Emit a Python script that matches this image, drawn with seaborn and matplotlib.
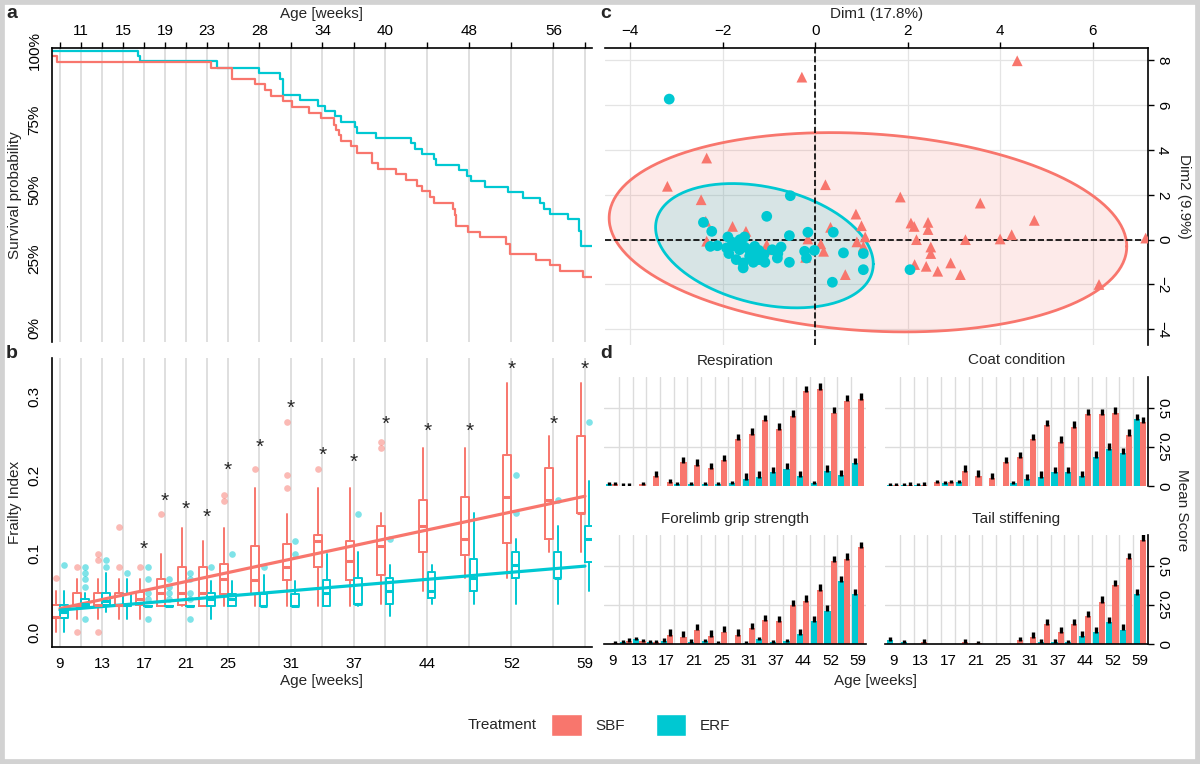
import numpy as np
import pandas as pd
import seaborn as sns
import matplotlib.pyplot as plt
from matplotlib.patches import Patch, Rectangle

# ---------------- data ----------------
ages = [9, 11, 13, 15, 17, 19, 21, 23, 25, 28, 31, 34, 37, 40, 44, 48, 52, 56, 59]
top_tick_ages = [11, 15, 19, 23, 28, 34, 40, 48, 56]
bottom_tick_ages = [9, 13, 17, 21, 25, 31, 37, 44, 52, 59]

# a) survival (Kaplan-Meier steps, %)
km_erf_t = [8.3, 16.4, 16.6, 24.0, 28.0, 30.0, 30.2, 31.9, 33.6, 34.2, 35.2, 35.8, 37.1, 37.3,
            39.1, 42.4, 42.8, 43.5, 44.6, 44.8, 47.0, 47.8, 48.1, 49.5, 51.7, 53.1, 54.7,
            55.1, 55.7, 57.4, 58.4, 58.6, 59.67]
km_erf_s = [100, 98.2, 96.4, 93.9, 92.1, 90.0, 84.2, 82.4, 80.2, 78.4, 76.4, 74.5, 72.5, 70.5,
            68.7, 66.7, 64.6, 62.8, 60.8, 58.8, 57.0, 54.9, 53.0, 50.9, 49.1, 47.0, 45.1,
            43.0, 41.2, 39.2, 35.2, 29.5, 29.5]
km_sbf_t = [8.3, 8.7, 23.4, 25.4, 27.6, 28.5, 29.1, 30.2, 31.1, 32.7, 33.9, 35.1, 35.3, 35.6,
            35.8, 36.7, 37.3, 38.7, 39.3, 41.0, 42.0, 43.0, 43.5, 44.2, 44.6, 46.4, 46.6,
            46.7, 47.9, 49.0, 51.5, 51.9, 54.3, 55.7, 56.6, 58.8, 59.67]
km_sbf_s = [98.0, 96.0, 93.7, 89.7, 87.9, 85.8, 83.6, 81.8, 79.8, 77.6, 75.8, 73.3, 71.5, 69.5,
            67.5, 65.5, 63.3, 59.4, 57.2, 55.5, 53.3, 51.3, 49.3, 47.3, 45.2, 43.0, 40.8,
            36.7, 34.8, 32.7, 30.5, 26.7, 24.6, 22.7, 20.6, 18.5, 18.5]

# b) frailty index box statistics per age
sbf_lo = [0.0, 0.017, 0.017, 0.017, 0.017, 0.033, 0.033, 0.033, 0.033, 0.033, 0.033, 0.033,
          0.033, 0.036, 0.052, 0.069, 0.069, 0.102, 0.102]
sbf_q1 = [0.018, 0.033, 0.033, 0.033, 0.034, 0.033, 0.034, 0.033, 0.049, 0.049, 0.066, 0.083,
          0.066, 0.073, 0.102, 0.098, 0.114, 0.118, 0.151]
sbf_med = [0.019, 0.034, 0.034, 0.034, 0.042, 0.05, 0.05, 0.05, 0.067, 0.066, 0.083, 0.116,
           0.091, 0.11, 0.135, 0.118, 0.172, 0.168, 0.151]
sbf_q3 = [0.034, 0.05, 0.05, 0.05, 0.051, 0.067, 0.083, 0.083, 0.087, 0.109, 0.112, 0.124,
          0.116, 0.135, 0.168, 0.172, 0.226, 0.209, 0.25]
sbf_hi = [0.052, 0.067, 0.067, 0.067, 0.067, 0.1, 0.133, 0.116, 0.133, 0.183, 0.15, 0.183,
          0.183, 0.151, 0.234, 0.234, 0.317, 0.25, 0.317]
sbf_out = [[0.069], [0.083, 0.0], [0.1, 0.092, 0.0], [0.134, 0.083], [0.083], [0.15], [], [],
           [0.175, 0.167], [0.208], [0.267, 0.2, 0.183], [0.208], [], [0.242, 0.234],
           [], [], [], [], []]

erf_lo = [0.0, 0.033, 0.025, 0.017, 0.033, 0.033, 0.033, 0.017, 0.033, 0.033, 0.033, 0.033,
          0.033, 0.02, 0.036, 0.036, 0.036, 0.036, 0.052]
erf_q1 = [0.018, 0.033, 0.034, 0.033, 0.033, 0.033, 0.033, 0.033, 0.033, 0.033, 0.033, 0.033,
          0.036, 0.036, 0.044, 0.052, 0.069, 0.069, 0.089]
erf_med = [0.026, 0.036, 0.039, 0.035, 0.033, 0.033, 0.033, 0.042, 0.042, 0.033, 0.033, 0.05,
           0.036, 0.052, 0.052, 0.069, 0.085, 0.069, 0.118]
erf_q3 = [0.034, 0.042, 0.05, 0.048, 0.033, 0.033, 0.033, 0.05, 0.049, 0.049, 0.049, 0.066,
          0.069, 0.069, 0.077, 0.093, 0.102, 0.102, 0.135]
erf_hi = [0.052, 0.05, 0.075, 0.067, 0.033, 0.033, 0.033, 0.065, 0.065, 0.073, 0.065, 0.1,
          0.102, 0.085, 0.085, 0.151, 0.118, 0.135, 0.193]
erf_out = [[0.086], [0.083, 0.075, 0.067, 0.058, 0.017], [0.092, 0.083], [0.075],
           [0.083, 0.067, 0.05, 0.042, 0.017], [0.067, 0.058, 0.05, 0.042],
           [0.075, 0.067, 0.05, 0.042, 0.017], [0.083], [0.1], [0.083], [0.116, 0.1], [],
           [0.15], [0.118], [], [], [0.2, 0.151], [0.168], [0.267]]

fit_ages = [9, 59]
fit_sbf = [0.030, 0.173]
fit_erf = [0.028, 0.084]

star_ages = [17, 19, 21, 23, 25, 28, 31, 34, 37, 40, 44, 48, 52, 56, 59]
star_y = [0.105, 0.166, 0.156, 0.146, 0.206, 0.235, 0.285, 0.225, 0.216, 0.265, 0.256,
          0.256, 0.335, 0.265, 0.335]

# c) PCA individuals
pc_sbf_x = [4.37, -0.29, -2.35, -3.2, 0.22, -2.47, 1.84, 3.57, 0.88, 4.74, 1.0, 2.07, 2.14,
            2.44, 2.44, 0.33, 1.08, 4.25, 4.0, 3.25, 2.19, 7.15, 0.9, 2.5, 2.5, 2.93, 2.4,
            2.65, 3.14, 2.15, 0.65, 6.14, -2.37, -1.79, -1.5, -2.35, -1.05, -1.05, -0.16,
            0.12, 0.18, -0.21, 1.04]
pc_sbf_y = [7.98, 7.25, 3.64, 2.38, 2.45, 1.78, 1.9, 1.63, 1.14, 0.86, 0.62, 0.74, 0.59,
            0.77, 0.45, 0.55, 0.12, 0.22, 0.03, 0.0, 0.0, 0.07, -0.1, -0.33, -0.62, -1.04,
            -1.19, -1.41, -1.56, -1.11, -1.56, -2.0, 0.82, 0.59, 0.37, -0.07, -0.22, -0.45,
            0.03, -0.19, -0.52, -0.79, -0.3]
pc_erf_x = [-3.16, -0.54, -1.05, -2.42, -2.24, -1.89, -1.53, -0.56, -0.16, 0.39, -2.27, -2.12,
            -1.92, -1.75, -1.64, -1.53, -1.42, -1.31, -1.22, -1.11, -1.87, -1.71, -1.56, -1.56,
            -1.34, -1.09, -0.82, -0.74, -0.56, -0.23, -0.02, -0.19, 0.61, 1.04, 1.04, 0.37,
            2.05, -1.63, -1.79, -1.31, -0.93, -0.81, -1.42, -1.22]
pc_erf_y = [6.27, 1.96, 1.04, 0.77, 0.37, 0.12, 0.12, 0.18, 0.33, 0.33, -0.3, -0.27, -0.37,
            -0.27, -0.45, -0.33, -0.45, -0.56, -0.48, -0.67, -0.62, -0.89, -1.04, -1.26,
            -1.01, -1.01, -0.82, -0.33, -1.01, -0.52, -0.48, -0.82, -0.59, -0.62, -1.34,
            -1.9, -1.34, 0.0, -0.12, -0.3, -0.45, -0.62, -0.74, -0.89]
# confidence ellipses: centre x, centre y, x radius, y radius, tilt (dy per dx)
ell_sbf = [1.14, 0.33, 5.6, 4.40, -0.113]
ell_erf = [-1.1, -0.27, 2.355, 2.65, -0.346]

# d) mean item scores
resp_erf = [0.01, 0.003, 0.002, 0.002, 0.002, 0.013, 0.013, 0.013, 0.011, 0.02, 0.047, 0.06,
            0.09, 0.112, 0.062, 0.02, 0.097, 0.07, 0.145]
resp_sbf = [0.01, 0.003, 0.01, 0.062, 0.028, 0.153, 0.136, 0.113, 0.166, 0.299, 0.335, 0.424,
            0.367, 0.451, 0.61, 0.625, 0.472, 0.549, 0.56]
coat_erf = [0.004, 0.004, 0.004, 0.002, 0.02, 0.026, 0.002, 0.002, 0.002, 0.017, 0.043, 0.059,
            0.087, 0.087, 0.062, 0.187, 0.238, 0.209, 0.428]
coat_sbf = [0.004, 0.009, 0.008, 0.026, 0.026, 0.098, 0.065, 0.05, 0.153, 0.185, 0.3, 0.39,
            0.285, 0.38, 0.46, 0.46, 0.47, 0.33, 0.41]
grip_erf = [0.002, 0.011, 0.033, 0.011, 0.022, 0.002, 0.015, 0.017, 0.007, 0.002, 0.007, 0.033,
            0.011, 0.017, 0.063, 0.145, 0.215, 0.402, 0.32]
grip_sbf = [0.007, 0.022, 0.017, 0.011, 0.059, 0.048, 0.093, 0.054, 0.08, 0.059, 0.102, 0.152,
            0.146, 0.25, 0.278, 0.348, 0.533, 0.548, 0.62]
tail_erf = [0.028, 0.011, 0.0, 0.0, 0.0, 0.0, 0.0, 0.0, 0.0, 0.0, 0.0, 0.015, 0.015, 0.011,
            0.05, 0.075, 0.14, 0.093, 0.32]
tail_sbf = [0.0, 0.0, 0.015, 0.0, 0.0, 0.015, 0.007, 0.0, 0.0, 0.028, 0.045, 0.128, 0.076,
            0.128, 0.18, 0.272, 0.378, 0.55, 0.67]

# ---------------- style ----------------
sbf_col = "#F8766D"
erf_col = "#00C8D2"
grid_col = "#dcdcdc"
pal = {"SBF": sbf_col, "ERF": erf_col}

sns.set_style("white")
plt.rcParams["font.family"] = ["Liberation Sans", "DejaVu Sans"]
plt.rcParams["font.size"] = 11
plt.rcParams["xtick.color"] = "black"
plt.rcParams["ytick.color"] = "black"

W, H = 1200, 764
fig = plt.figure(figsize=(W / 100, H / 100), dpi=100)


def px_axes(l, t, r, b):
    return fig.add_axes([l / W, 1 - b / H, (r - l) / W, (b - t) / H])


def age_ticks(ax, labelled):
    ax.set_xticks(ages)
    ax.set_xticklabels([str(a) if a in labelled else "" for a in ages])
    for a in ages:
        ax.axvline(a, color=grid_col, lw=1.3, zorder=0)


# ---------------- a: survival ----------------
ax_a = px_axes(52, 48, 592, 342)
age_ticks(ax_a, top_tick_ages)
sns.lineplot(x=km_erf_t, y=km_erf_s, drawstyle="steps-post", color=erf_col, lw=1.6,
             estimator=None, sort=False, ax=ax_a)
sns.lineplot(x=km_sbf_t, y=km_sbf_s, drawstyle="steps-post", color=sbf_col, lw=1.6,
             estimator=None, sort=False, ax=ax_a)
ax_a.set_xlim(8.24, 59.67)
ax_a.set_ylim(-5, 101)
ax_a.xaxis.tick_top()
ax_a.xaxis.set_label_position("top")
ax_a.set_xlabel("Age [weeks]", labelpad=4)
ax_a.set_yticks([0, 25, 50, 75, 100])
ax_a.set_yticklabels(["0%", "25%", "50%", "75%", "100%"], rotation=90, va="center")
ax_a.set_ylabel("Survival probability")
for s in ["right", "bottom"]:
    ax_a.spines[s].set_visible(False)
for s in ["top", "left"]:
    ax_a.spines[s].set_color("black")
    ax_a.spines[s].set_linewidth(1.2)
ax_a.tick_params(direction="out", length=4, width=1)

# ---------------- b: frailty index ----------------
ax_b = px_axes(52, 358, 592, 647)
age_ticks(ax_b, bottom_tick_ages)


def make_stats(lo, q1, med, q3, hi, out):
    return [dict(whislo=a, q1=b, med=c, q3=d, whishi=e, fliers=f)
            for a, b, c, d, e, f in zip(lo, q1, med, q3, hi, out)]


for stats, col, shift in [(make_stats(sbf_lo, sbf_q1, sbf_med, sbf_q3, sbf_hi, sbf_out), sbf_col, -0.4),
                          (make_stats(erf_lo, erf_q1, erf_med, erf_q3, erf_hi, erf_out), erf_col, 0.4)]:
    ax_b.bxp(stats, positions=[a + shift for a in ages], widths=0.72, showcaps=False,
             patch_artist=False, manage_ticks=False,
             boxprops=dict(color=col, lw=1.4), medianprops=dict(color=col, lw=2.2),
             whiskerprops=dict(color=col, lw=1.4),
             flierprops=dict(marker="o", markerfacecolor=col, markeredgecolor="none",
                             alpha=0.5, markersize=4.8))

sns.lineplot(x=fit_ages, y=fit_sbf, color=sbf_col, lw=2.3, ax=ax_b)
sns.lineplot(x=fit_ages, y=fit_erf, color=erf_col, lw=2.3, ax=ax_b)
for a, v in zip(star_ages, star_y):
    ax_b.text(a, v, "*", ha="center", va="center", fontsize=15)

ax_b.set_xlim(8.24, 59.67)
ax_b.set_ylim(-0.019, 0.349)
ax_b.set_yticks([0, 0.1, 0.2, 0.3])
ax_b.set_yticklabels(["0.0", "0.1", "0.2", "0.3"], rotation=90, va="center")
ax_b.set_xlabel("Age [weeks]", labelpad=2)
ax_b.set_ylabel("Frailty Index")
for s in ["right", "top"]:
    ax_b.spines[s].set_visible(False)
for s in ["bottom", "left"]:
    ax_b.spines[s].set_color("black")
    ax_b.spines[s].set_linewidth(1.2)
ax_b.tick_params(direction="out", length=4, width=1)

# ---------------- c: PCA ----------------
ax_c = px_axes(605, 48, 1148, 345)
for sh_params, col in [(ell_sbf, sbf_col), (ell_erf, erf_col)]:
    cx, cy, rx, ry, tilt = sh_params
    t = np.linspace(0, 2 * np.pi, 300)
    ex = cx + rx * np.cos(t)
    ey = cy + ry * np.sin(t) + tilt * rx * np.cos(t)
    ax_c.fill(ex, ey, color=col, alpha=0.15, lw=0, zorder=1)
    ax_c.plot(ex, ey, color=col, lw=2, zorder=2)

pca = pd.DataFrame({
    "Dim1": pc_sbf_x + pc_erf_x,
    "Dim2": pc_sbf_y + pc_erf_y,
    "Treatment": ["SBF"] * len(pc_sbf_x) + ["ERF"] * len(pc_erf_x),
})
sns.scatterplot(data=pca, x="Dim1", y="Dim2", hue="Treatment", style="Treatment",
                markers={"SBF": "^", "ERF": "o"}, palette=pal, s=60, edgecolor="none",
                legend=False, ax=ax_c, zorder=3)
ax_c.axvline(0, color="black", ls="--", lw=1.2, zorder=2.5)
ax_c.axhline(0, color="black", ls="--", lw=1.2, zorder=2.5)
ax_c.set_xlim(-4.55, 7.2)
ax_c.set_ylim(-4.7, 8.55)
ax_c.set_xticks([-4, -2, 0, 2, 4, 6])
ax_c.set_xticklabels(["\u22124", "\u22122", "0", "2", "4", "6"])
ax_c.set_yticks([-4, -2, 0, 2, 4, 6, 8])
ax_c.set_yticklabels(["\u22124", "\u22122", "0", "2", "4", "6", "8"], rotation=-90, va="center")
ax_c.grid(True, color="#e4e4e4", lw=0.9)
ax_c.set_axisbelow(True)
ax_c.xaxis.tick_top()
ax_c.xaxis.set_label_position("top")
ax_c.yaxis.tick_right()
ax_c.set_xlabel("Dim1 (17.8%)", labelpad=4)
ax_c.set_ylabel("")
for s in ["left", "bottom"]:
    ax_c.spines[s].set_visible(False)
for s in ["top", "right"]:
    ax_c.spines[s].set_color("black")
    ax_c.spines[s].set_linewidth(1.2)
ax_c.tick_params(direction="out", length=4, width=1)
ax_c.tick_params(axis="y", pad=1)
fig.text(1184 / W, 1 - 196 / H, "Dim2 (9.9%)", ha="center", va="center", rotation=-90, fontsize=11)

# ---------------- d: item scores ----------------
panels_d = [("Respiration", resp_erf, resp_sbf), ("Coat condition", coat_erf, coat_sbf),
            ("Forelimb grip strength", grip_erf, grip_sbf), ("Tail stiffening", tail_erf, tail_sbf)]
boxes_d = [(604, 377, 866, 486), (885, 377, 1148, 486), (604, 535, 866, 644), (885, 535, 1148, 644)]
age_str = [str(a) for a in ages]

for k, ((title, e_vals, s_vals), box) in enumerate(zip(panels_d, boxes_d)):
    ax = px_axes(*box)
    df = pd.DataFrame({"age": age_str * 2, "score": e_vals + s_vals,
                       "Treatment": ["ERF"] * len(ages) + ["SBF"] * len(ages)})
    sns.barplot(data=df, x="age", y="score", hue="Treatment", order=age_str,
                hue_order=["ERF", "SBF"], palette=pal, width=0.9, saturation=1,
                errorbar=None, legend=False, ax=ax, zorder=2, linewidth=0)
    for p in list(ax.patches):
        h = p.get_height()
        if h > 0.0025:
            up = 0.035 if h > 0.04 else 0.015
            ax.errorbar(p.get_x() + p.get_width() / 2, h, yerr=[[0.006], [up]], fmt="none",
                        ecolor="black", elinewidth=2.4, capsize=0, zorder=3)
    ax.set_xlim(-0.6, 18.6)
    ax.set_ylim(0, 0.7)
    ax.set_xticks(np.arange(0.5, 18, 1), minor=True)
    ax.grid(which="minor", axis="x", color=grid_col, lw=1)
    for yv in [0.25, 0.5]:
        ax.axhline(yv, color=grid_col, lw=1, zorder=0)
    ax.set_axisbelow(True)
    ax.set_title(title, fontsize=11, pad=9)
    ax.set_xlabel("")
    ax.set_ylabel("")
    for s in ax.spines.values():
        s.set_visible(False)
    ax.tick_params(which="minor", length=0)
    if k >= 2:
        ax.set_xticks(range(len(ages)))
        ax.set_xticklabels([a if int(a) in bottom_tick_ages else "" for a in age_str])
        ax.spines["bottom"].set_visible(True)
        ax.spines["bottom"].set_color("black")
        ax.spines["bottom"].set_linewidth(1.2)
        ax.tick_params(axis="x", which="major", direction="out", length=4, width=1)
    else:
        ax.set_xticks([])
    if k % 2 == 1:
        ax.yaxis.tick_right()
        ax.set_yticks([0, 0.25, 0.5])
        ax.set_yticklabels(["0", "0.25", "0.5"], rotation=-90, va="center")
        ax.spines["right"].set_visible(True)
        ax.spines["right"].set_color("black")
        ax.spines["right"].set_linewidth(1.2)
        ax.tick_params(axis="y", direction="out", length=4, width=1, pad=1)
    else:
        ax.set_yticks([])

fig.text(875 / W, 1 - 681 / H, "Age [weeks]", ha="center", va="center", fontsize=11)
fig.text(1182 / W, 1 - 510 / H, "Mean Score", ha="center", va="center", rotation=-90, fontsize=11)

# ---------------- panel letters, legend, frame ----------------
for letter, (x, y) in zip("abcd", [(6, 14), (6, 354), (600, 14), (600, 354)]):
    fig.text(x / W, 1 - y / H, letter, fontsize=14, fontweight="bold", va="center", ha="left")

handles = [Patch(facecolor=sbf_col, label="SBF"), Patch(facecolor=erf_col, label="ERF")]
fig.legend(handles=handles, loc="center", bbox_to_anchor=(641 / W, 1 - 725 / H), ncol=2,
           frameon=False, fontsize=11, handlelength=2.0, handleheight=1.75,
           handletextpad=0.9, columnspacing=2.0)
fig.text(502 / W, 1 - 725 / H, "Treatment", ha="center", va="center", fontsize=11)

fig.patches.append(Rectangle((0, 0), 1, 1, transform=fig.transFigure, fill=False,
                             edgecolor="#d2d2d2", lw=7))

fig.savefig("out.png", dpi=100)
